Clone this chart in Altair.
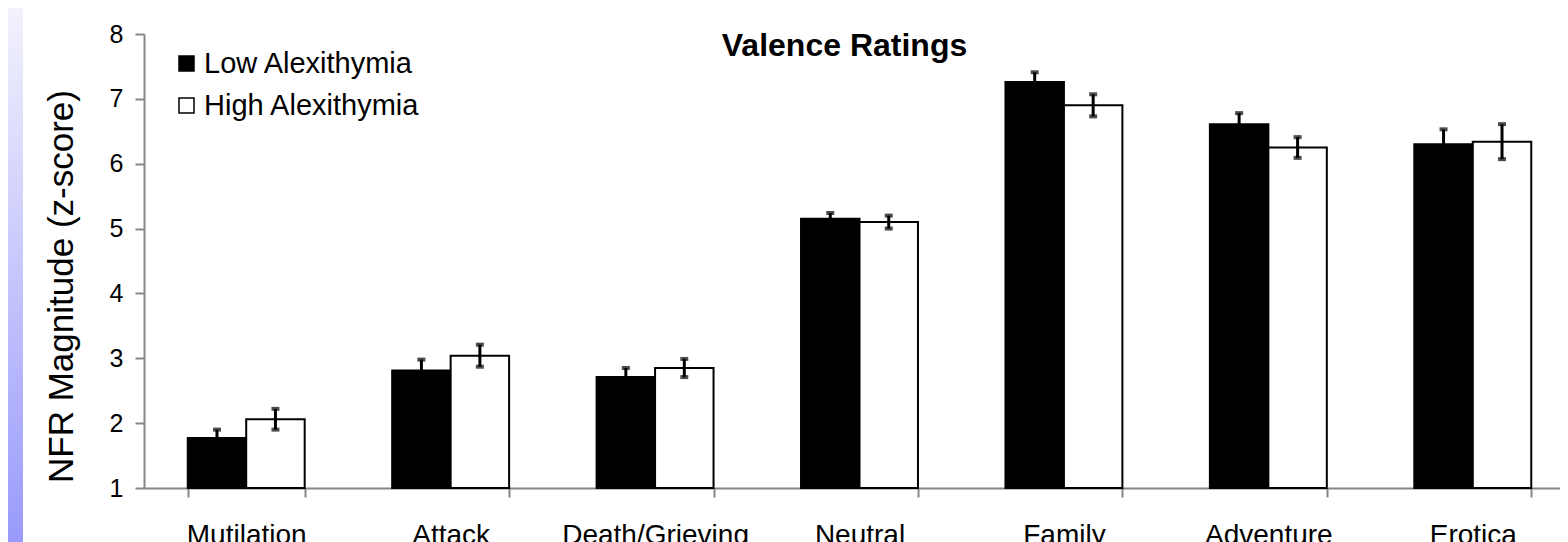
import altair as alt
import pandas as pd

categories = ["Mutilation", "Attack", "Death/Grieving", "Neutral", "Family", "Adventure", "Erotica"]
groups = ["Low Alexithymia", "High Alexithymia"]
low_vals = [1.77, 2.81, 2.71, 5.15, 7.26, 6.61, 6.30]
high_vals = [2.06, 3.04, 2.85, 5.10, 6.90, 6.25, 6.34]
low_err = [0.13, 0.17, 0.14, 0.09, 0.15, 0.17, 0.23]
high_err = [0.16, 0.17, 0.14, 0.10, 0.17, 0.16, 0.27]
y_ticks = [1, 2, 3, 4, 5, 6, 7, 8]

rows = []
for i, c in enumerate(categories):
    for g, v, e in ((groups[0], low_vals[i], low_err[i]), (groups[1], high_vals[i], high_err[i])):
        rows.append({"cat": c, "grp": g, "val": v, "lo": v - e, "hi": v + e})
df = pd.DataFrame(rows)

W, H = 1431, 454
PL, PT, PR, PB = 136, 26, -15, 54
FONT = "Liberation Sans"
GRAY = "#868686"

x_enc = alt.X(
    "cat:N", sort=categories, title=None,
    scale=alt.Scale(paddingInner=0.428, paddingOuter=0.214),
    axis=alt.Axis(labelAngle=0, labelFontSize=28, labelFont=FONT, labelColor="black",
                  labelLimit=400, labelPadding=24, tickSize=9, tickColor=GRAY, tickWidth=2,
                  domainColor=GRAY, domainWidth=2, tickBand="extent", grid=False),
)
xo_enc = alt.XOffset("grp:N", sort=groups, scale=alt.Scale(domain=groups, paddingInner=0, paddingOuter=0))
y_scale = alt.Scale(domain=[1, 8], nice=False, zero=False)

base = alt.Chart(df)

bars = base.mark_bar(stroke="black", strokeWidth=2).encode(
    x=x_enc,
    xOffset=xo_enc,
    y=alt.Y("val:Q", scale=y_scale, title="NFR Magnitude (z-score)",
            axis=alt.Axis(values=y_ticks, format="d", labelFontSize=25, labelFont=FONT, labelColor="black",
                          labelPadding=12, tickSize=9, tickColor=GRAY, tickWidth=2,
                          domainColor=GRAY, domainWidth=2, grid=False,
                          titleFontSize=35, titleFont=FONT, titleColor="black", titleFontWeight="normal",
                          titleX=-72, titleY=252, titleAngle=270, titleBaseline="alphabetic",
                          titleAlign="center")),
    y2=alt.datum(1),
    color=alt.Color("grp:N", sort=groups,
                    scale=alt.Scale(domain=groups, range=["black", "white"]),
                    legend=alt.Legend(orient="none", legendX=28, legendY=15, title=None,
                                      symbolType="square", symbolSize=225,
                                      symbolStrokeColor="black", symbolStrokeWidth=1.5,
                                      labelFontSize=29, labelFont=FONT, labelColor="black",
                                      labelLimit=400,
                                      rowPadding=12, labelOffset=3, padding=0)),
)

rules = base.mark_rule(color="black", strokeWidth=3).encode(
    x=x_enc, xOffset=xo_enc, y=alt.Y("lo:Q", scale=y_scale), y2="hi:Q"
)
caps_hi = base.mark_tick(color="black", thickness=4, size=8).encode(
    x=x_enc, xOffset=xo_enc, y=alt.Y("hi:Q", scale=y_scale)
)
caps_lo = base.mark_tick(color="black", thickness=4, size=8).encode(
    x=x_enc, xOffset=xo_enc, y=alt.Y("lo:Q", scale=y_scale)
)

one = pd.DataFrame({"t": ["Valence Ratings"]})
gradient = alt.LinearGradient(
    gradient="linear", x1=0, x2=0, y1=0, y2=1,
    stops=[alt.GradientStop(offset=0, color="#f2f2fd"),
           alt.GradientStop(offset=1, color="#9a9afc")],
)
strip = alt.Chart(one).mark_rect(color=gradient).encode(
    x=alt.value(-PL), x2=alt.value(-PL + 15), y=alt.value(-PT), y2=alt.value(H + PB)
)
title_txt = alt.Chart(one).mark_text(
    font=FONT, fontSize=32, fontWeight="bold", color="black", align="center", baseline="alphabetic"
).encode(text="t:N", x=alt.value(700.5), y=alt.value(21.6))

chart = alt.layer(strip, bars, rules, caps_hi, caps_lo, title_txt).properties(
    width=W, height=H,
    padding={"left": PL, "top": PT, "right": PR, "bottom": PB},
    autosize=alt.AutoSizeParams(type="none"),
).configure(background="white", font=FONT).configure_view(stroke=None).configure_axis(grid=False)

chart.save("out.html", embed_options={"renderer": "svg", "actions": False})
